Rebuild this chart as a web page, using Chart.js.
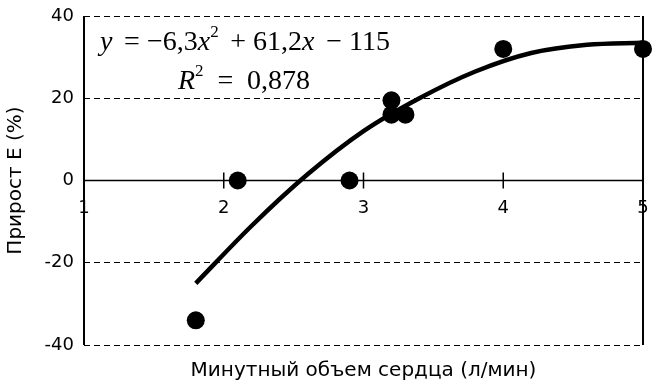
<!DOCTYPE html>
<html lang="ru">
<head>
<meta charset="utf-8">
<title>Прирост Е</title>
<script src="https://cdn.jsdelivr.net/npm/chart.js@4.4.1/dist/chart.umd.min.js"></script>
<style>
    html, body { margin: 0; padding: 0; background: #fff; }
    #wrap { width: 652px; height: 384px; position: relative; }
</style>
</head>
<body>
<div id="wrap"><canvas id="myChart"></canvas></div>
<script>
/////////////////////////////////////////////data//////////////////////////////////////////////

// measured points (минутный объем, прирост Е)
const pointX = [1.8, 2.1, 2.9, 3.2, 3.2, 3.3, 4.0, 5.0];
const pointY = [-34, 0, 0, 19.5, 16, 16, 32, 32];

// trend curve
const trendX = [1.8, 2.2, 2.6, 3.0, 3.4, 3.8, 4.2, 4.6, 5.0];
const trendY = [-25, -11, 1.5, 12, 20, 26.5, 31, 33, 33.5];

// axis ticks
const xTickValues = [1, 2, 3, 4, 5];
const xTickLabels = ["1", "2", "3", "4", "5"];
const yTickValues = [-40, -20, 0, 20, 40];
const yTickLabels = ["-40", "-20", "0", "20", "40"];

const xTitle = "Минутный объем сердца (л/мин)";
const yTitle = "Прирост Е (%)";

/////////////////////////////////////////////data//////////////////////////////////////////////


// frame, zero axis with its ticks and labels
const frameAndAxis = {
    id: "frameAndAxis",
    beforeDatasetsDraw(chart) {
        const { ctx, chartArea: a, scales: { x, y } } = chart;
        const y0 = y.getPixelForValue(0);
        ctx.save();
        ctx.strokeStyle = "#000";
        ctx.lineWidth = 2;
        ctx.beginPath();
        ctx.moveTo(a.left, a.top); ctx.lineTo(a.left, a.bottom);
        ctx.moveTo(a.right, a.top); ctx.lineTo(a.right, a.bottom);
        ctx.stroke();

        ctx.lineWidth = 1.5;
        ctx.beginPath();
        ctx.moveTo(a.left, y0); ctx.lineTo(a.right, y0);
        xTickValues.forEach(v => {
            const px = x.getPixelForValue(v);
            ctx.moveTo(px, y0 - 8);
            ctx.lineTo(px, y0 + 8);
        });
        ctx.stroke();

        ctx.fillStyle = "#000";
        ctx.font = '18px "DejaVu Sans"';
        ctx.textAlign = "center";
        ctx.textBaseline = "middle";
        xTickValues.forEach((v, i) => {
            ctx.fillText(xTickLabels[i], x.getPixelForValue(v), y0 + 28);
        });
        ctx.restore();
    }
};

// regression equation text, spread between left and right ends
const MAIN = '28px "Liberation Serif"';
const ITAL = 'italic 28px "Liberation Serif"';
const SUP = '17px "Liberation Serif"';

const eqLines = [
    {
        left: 100, right: 390, base: 50, supBase: 37,
        // [text, font, gap before]
        parts: [["y", ITAL, 0], ["=", MAIN, 1], ["\u2212", MAIN, 0.6], ["6,3", MAIN, 0], ["x", ITAL, 0],
                ["2", SUP, 0], ["+", MAIN, 1], ["61,2", MAIN, 0.6], ["x", ITAL, 0], ["\u2212", MAIN, 1], ["115", MAIN, 0.6]]
    },
    {
        left: 178, right: 310, base: 89, supBase: 76,
        parts: [["R", ITAL, 0], ["2", SUP, 0], ["=", MAIN, 1], ["0,878", MAIN, 1]]
    }
];

const equation = {
    id: "equation",
    afterDraw(chart) {
        const ctx = chart.ctx;
        ctx.save();
        ctx.fillStyle = "#000";
        ctx.textAlign = "left";
        ctx.textBaseline = "alphabetic";
        eqLines.forEach(line => {
            let natural = 0, gaps = 0;
            line.parts.forEach(p => {
                ctx.font = p[1];
                natural += ctx.measureText(p[0]).width;
                gaps += p[2];
            });
            const gap = gaps ? (line.right - line.left - natural) / gaps : 0;
            let cx = line.left;
            line.parts.forEach(p => {
                ctx.font = p[1];
                cx += p[2] * gap;
                ctx.fillText(p[0], cx, p[1] === SUP ? line.supBase : line.base);
                cx += ctx.measureText(p[0]).width;
            });
        });
        ctx.restore();
    }
};

document.addEventListener("DOMContentLoaded", function () {
    const ctx = document.getElementById("myChart").getContext("2d");
    new Chart(ctx, {
        type: "scatter",
        data: {
            datasets: [
                {
                    label: "trend",
                    data: trendX.map((v, i) => ({ x: v, y: trendY[i] })),
                    showLine: true,
                    borderColor: "#000",
                    borderWidth: 4.5,
                    pointRadius: 0,
                    cubicInterpolationMode: "monotone",
                    fill: false
                },
                {
                    label: "points",
                    data: pointX.map((v, i) => ({ x: v, y: pointY[i] })),
                    backgroundColor: "#000",
                    borderColor: "#000",
                    borderWidth: 0,
                    pointRadius: 9,
                    clip: false
                }
            ]
        },
        options: {
            responsive: true,
            maintainAspectRatio: false,
            animation: false,
            layout: { padding: { top: 16, right: 4, left: 0, bottom: 0 } },
            plugins: {
                legend: { display: false },
                tooltip: { enabled: false },
                title: {
                    display: true,
                    position: "bottom",
                    fullSize: false,
                    text: xTitle,
                    color: "#000",
                    font: { family: "DejaVu Sans", size: 20, weight: "normal" },
                    padding: { top: 14, bottom: 1 }
                }
            },
            scales: {
                x: {
                    type: "linear",
                    min: 1,
                    max: 5,
                    display: false
                },
                y: {
                    min: -40,
                    max: 40,
                    afterBuildTicks: s => { s.ticks = yTickValues.map(v => ({ value: v })); },
                    afterFit: s => { s.width = 84; s.paddingTop = 0; s.paddingBottom = 0; },
                    ticks: {
                        color: "#000",
                        font: { family: "DejaVu Sans", size: 18 },
                        padding: 10,
                        callback: v => yTickLabels[yTickValues.indexOf(v)]
                    },
                    grid: { color: "#000", lineWidth: 1, drawTicks: false },
                    border: { display: false, dash: [6, 4] },
                    title: {
                        display: true,
                        text: yTitle,
                        color: "#000",
                        font: { family: "DejaVu Sans", size: 20 },
                        padding: { top: 4, bottom: 4 }
                    }
                }
            }
        },
        plugins: [frameAndAxis, equation]
    });
});
</script>
</body>
</html>
